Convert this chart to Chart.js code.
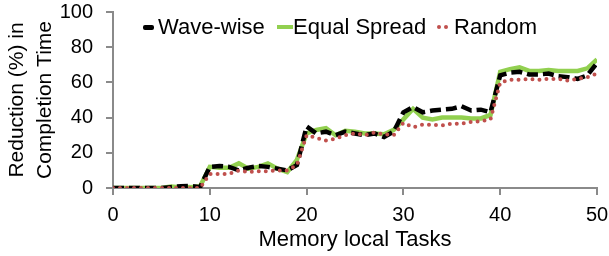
<!DOCTYPE html>
<html>
<head>
<meta charset="utf-8">
<script src="https://cdn.jsdelivr.net/npm/chart.js@4/dist/chart.umd.min.js"></script>
<style>
  body { margin: 0; background: #fff; }
  #wrap { position: relative; width: 609px; height: 256px; }
  .legend { position: absolute; top: 15px; font: 22px "Liberation Sans", Arial, sans-serif; line-height: 24px; color: #000; white-space: nowrap; }
  .legend span { position: absolute; }
</style>
</head>
<body>
<div id="wrap">
  <canvas id="chart"></canvas>
  <div class="legend" style="left:0">
    <span style="left:143px;top:10px;width:11px;height:5px;background:#000;border-radius:2px"></span>
    <span style="left:158px;top:0">Wave-wise</span>
    <span style="left:277px;top:10px;width:16px;height:4px;background:#92D050"></span>
    <span style="left:293px;top:0">Equal Spread</span>
    <span style="left:437px;top:10px;width:4px;height:4px;border-radius:50%;background:#C0504D"></span>
    <span style="left:444px;top:10px;width:4px;height:4px;border-radius:50%;background:#C0504D"></span>
    <span style="left:454px;top:0">Random</span>
  </div>
</div>
<script>
const tasks = [0, 1, 2, 3, 4, 5, 6, 7, 8, 9, 10, 11, 12, 13, 14, 15, 16, 17, 18, 19, 20,
  21, 22, 23, 24, 25, 26, 27, 28, 29, 30, 31, 32, 33, 34, 35, 36, 37, 38, 39, 40,
  41, 42, 43, 44, 45, 46, 47, 48, 49, 50];

const waveWise = [0, 0, 0, 0, 0, 0, 0.5, 1, 1.2, 0.5, 12, 12.5, 12, 10, 11.5, 12.5, 12, 11, 10, 13,
  35, 31, 32, 30, 32, 31, 30, 31, 29, 32, 43, 46, 43, 44, 44.5, 45, 46.5, 44, 44.5, 43,
  64, 65.5, 66, 64.5, 64.5, 65, 63.5, 63, 62, 64, 71];

const equalSpread = [0, 0, 0, 0, 0, 0, 0.8, 0.3, 0.5, 1, 12, 11.5, 11.5, 14, 11, 12, 14, 11, 9, 16,
  31, 33, 34, 30, 32.5, 32, 31, 31, 30.5, 33, 39, 45, 40, 39, 40, 40, 40, 39.5, 39.5, 41.5,
  66, 67.5, 68.5, 66.5, 66.5, 67, 66.5, 66.5, 66.5, 68, 73];

const random = [0, 0, 0, 0, 0, 0, 0, 0, 0, 0, 8, 8, 8, 10, 9, 9.5, 9.5, 10, 10, 13,
  30, 28.5, 27, 28, 30, 31, 30, 31.5, 30.5, 30, 37, 34.5, 36, 36, 35.5, 36.5, 36.5, 37.5, 38, 39,
  60, 61.5, 61.5, 62, 61.5, 62, 62, 61, 62, 63, 65];

const xTitle = 'Memory local Tasks';
const yTitle = ['Reduction (%) in', 'Completion Time'];

const toPoints = vals => vals.map((v, i) => ({ x: tasks[i], y: v }));

const axisGray = '#8a8a8a';
const fontFamily = "'Liberation Sans', Arial, sans-serif";

new Chart(document.getElementById('chart'), {
  type: 'line',
  data: {
    datasets: [
      {
        label: 'Random',
        data: toPoints(random),
        borderColor: '#C0504D',
        borderWidth: 4,
        borderDash: [0, 7],
        borderCapStyle: 'round',
        pointRadius: 0,
        tension: 0,
        order: 0
      },
      {
        label: 'Wave-wise',
        data: toPoints(waveWise),
        borderColor: '#000',
        borderWidth: 4.5,
        borderDash: [11, 5],
        pointRadius: 0,
        tension: 0,
        order: 1
      },
      {
        label: 'Equal Spread',
        data: toPoints(equalSpread),
        borderColor: '#92D050',
        borderWidth: 4.5,
        pointRadius: 0,
        tension: 0,
        order: 2
      }
    ]
  },
  options: {
    responsive: true,
    maintainAspectRatio: false,
    animation: false,
    layout: { padding: { top: 12, right: 12, left: 0, bottom: 0 }, autoPadding: false },
    plugins: {
      legend: { display: false },
      tooltip: { enabled: false }
    },
    scales: {
      x: {
        type: 'linear',
        min: 0,
        max: 50,
        ticks: { stepSize: 10, color: '#000', padding: 8, font: { size: 20, family: fontFamily } },
        grid: { drawOnChartArea: false, drawTicks: true, tickLength: 7, color: axisGray, lineWidth: 2 },
        border: { color: axisGray, width: 2 },
        title: { display: true, text: xTitle, color: '#000', padding: { top: 2, bottom: 3 }, font: { size: 22, family: fontFamily } },
        afterFit: scale => { scale.height = 68; scale.paddingLeft = 0; scale.paddingRight = 0; }
      },
      y: {
        min: 0,
        max: 100,
        ticks: { stepSize: 20, color: '#000', padding: 13, font: { size: 20, family: fontFamily } },
        grid: { drawOnChartArea: false, drawTicks: true, tickLength: 7, color: axisGray, lineWidth: 2 },
        border: { color: axisGray, width: 2 },
        title: { display: true, text: yTitle, color: '#000', padding: { top: 4, bottom: 0 }, font: { size: 21, family: fontFamily, lineHeight: 1.3 } },
        afterFit: scale => { scale.width = 113; scale.paddingTop = 0; scale.paddingBottom = 0; }
      }
    }
  }
});
</script>
</body>
</html>
